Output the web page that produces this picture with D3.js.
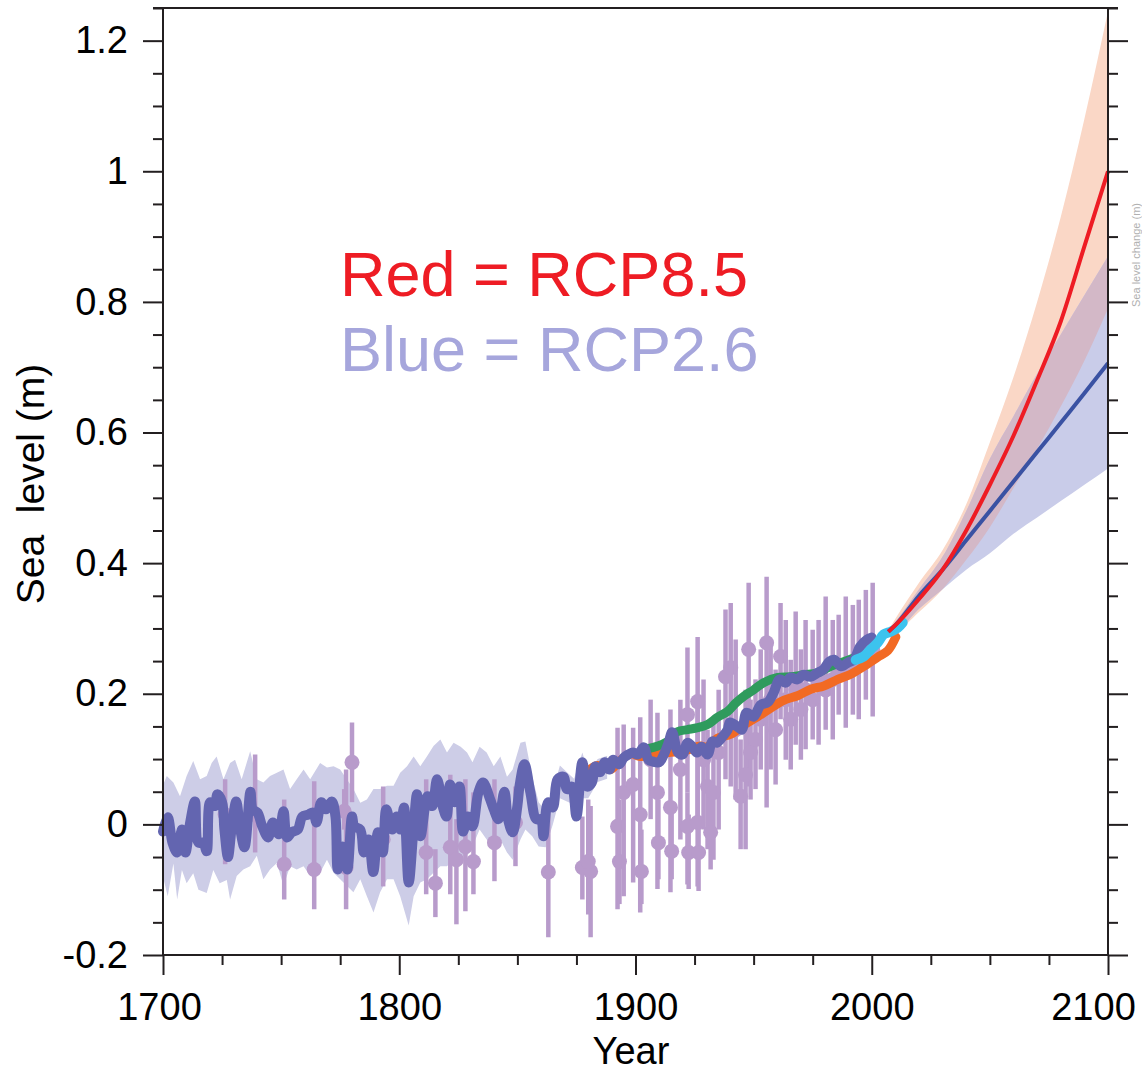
<!DOCTYPE html>
<html>
<head>
<meta charset="utf-8">
<script src="https://cdn.jsdelivr.net/npm/d3@7"></script>
<style>
  body { margin: 0; background: #fff; }
  svg { display: block; font-family: Arial, "Liberation Sans", sans-serif; }
</style>
</head>
<body>
<div id="container"></div>
<script>
// reconstruction (dark blue line), [year, sea level m]
const reconSeries = [
  [1700,-0.011],[1702,0.011],[1704,-0.028],[1706,-0.043],[1708,-0.008],[1709.5,-0.043],[1711.5,0.003],[1713.5,0.035],
  [1715,-0.028],[1717,-0.028],[1718.5,-0.041],[1720,0.034],[1722,0.028],[1723,0.046],[1725,0.034],[1726,-0.008],
  [1727.5,-0.050],[1729,-0.008],[1731,0.035],[1732.5,-0.003],[1734.5,-0.035],[1737,0.050],[1738,0.023],[1740,0.018],
  [1742,-0.003],[1744.5,-0.020],[1746.5,0.003],[1749,-0.015],[1751,0.020],[1752.5,-0.020],[1754.5,-0.012],[1757,-0.008],
  [1759,0.012],[1761.5,0.015],[1763.5,0.018],[1765,0.003],[1767,0.034],[1769,0.023],[1771.5,0.035],[1773,0.012],
  [1774,-0.069],[1776,-0.034],[1778,-0.069],[1780,0.012],[1781,-0.003],[1783.5,-0.008],[1785,-0.043],[1787,-0.023],
  [1789,-0.073],[1791,-0.012],[1793,-0.043],[1794.5,0.023],[1797,-0.008],[1799,0.012],[1800.5,-0.008],[1802,0.026],
  [1804,-0.089],[1806,-0.008],[1807.5,0.046],[1809,-0.018],[1812,0.043],[1814,0.028],[1816,0.069],[1818.5,0.026],
  [1820,0.012],[1821.5,0.061],[1823.5,0.034],[1825.5,0.058],[1827,-0.011],[1829,0.012],[1831,-0.003],[1833.5,0.049],
  [1835.5,0.064],[1838.5,0.038],[1840,0.023],[1842,0.008],[1844.5,0.050],[1846,0.008],[1848,-0.012],[1850,0.028],
  [1851,0.061],[1853,0.092],[1855.5,0.049],[1858,0.008],[1860,0.008],[1861,-0.018],[1863,0.034],[1865,0.026],
  [1867,0.069],[1869.5,0.073],[1871,0.054],[1873,0.058],[1875,0.012],[1877.5,0.095],[1879.5,0.058],[1881.5,0.064],
  [1883,0.089],[1885,0.080],[1887,0.095],[1889,0.084],[1890.5,0.099],[1893,0.092],[1895,0.102],[1897,0.107],
  [1899,0.110],[1901,0.107],[1903.5,0.118],[1905.5,0.099],[1907.5,0.096],[1910,0.095],[1912,0.107],[1914,0.125],
  [1915.5,0.141],[1918,0.110],[1920,0.107],[1922,0.125],[1924,0.119],[1926,0.110],[1928,0.119],[1930.5,0.107],
  [1932.5,0.127],[1934.5,0.125],[1937,0.135],[1939,0.145],[1940,0.156],[1943,0.150],[1945,0.145],[1947,0.171],
  [1950,0.165],[1953,0.183],[1956,0.187],[1958.5,0.202],[1961,0.222],[1963.5,0.217],[1965.5,0.225],[1968.5,0.222],
  [1971,0.229],[1974,0.226],[1977,0.232],[1979.5,0.237],[1982,0.249],[1984,0.252],[1987,0.242],[1990,0.248],
  [1992.5,0.252],[1995,0.272],[1998,0.283],[2000,0.286]
];

// uncertainty envelope of the reconstruction
const reconUpper = [
  [1700,0.060],[1701.6,0.074],[1704.4,0.064],[1707.2,0.043],[1710,0.074],[1712.8,0.097],[1715.7,0.069],[1718.5,0.074],
  [1720.6,0.094],[1722.7,0.104],[1725.6,0.069],[1728.4,0.094],[1730.5,0.099],[1733.3,0.069],[1736.9,0.112],[1739.7,0.069],
  [1742.5,0.064],[1745.3,0.074],[1748.2,0.079],[1751,0.084],[1753.8,0.054],[1756.6,0.069],[1759.5,0.084],[1762.3,0.069],
  [1766.5,0.094],[1769.4,0.087],[1772.2,0.089],[1775,0.084],[1777.8,0.069],[1780.6,0.054],[1783.5,0.033],[1786.3,0.038],
  [1789.1,0.054],[1791.9,0.054],[1794.8,0.059],[1797.6,0.059],[1800.4,0.079],[1803.3,0.089],[1806.1,0.104],[1808.9,0.089],
  [1811.7,0.104],[1814.5,0.120],[1817.4,0.130],[1820.2,0.110],[1823,0.125],[1826,0.119],[1828.7,0.110],[1831,0.095],
  [1834,0.119],[1837,0.110],[1840,0.089],[1842.8,0.104],[1845.6,0.073],[1848,0.084],[1851.3,0.125],[1853.4,0.127],
  [1856.3,0.073],[1859,0.034],[1862,0.020],[1865,0.050],[1868,0.090],[1871,0.080],[1874,0.070],[1877.5,0.110],
  [1880,0.080],[1884,0.100],[1888,0.105]
];
const reconLower = [
  [1700,-0.080],[1702,-0.110],[1704.4,-0.060],[1706,-0.115],[1708,-0.070],[1710,-0.090],[1712.8,-0.075],[1715,-0.100],
  [1718.5,-0.105],[1721.3,-0.070],[1724,-0.090],[1727,-0.085],[1728.4,-0.115],[1731.2,-0.079],[1734,-0.069],[1736.9,-0.064],
  [1739.7,-0.048],[1742.5,-0.084],[1745.3,-0.069],[1748.2,-0.059],[1751,-0.094],[1753.8,-0.064],[1756.6,-0.069],[1759.5,-0.064],
  [1762.3,-0.079],[1766.5,-0.074],[1769.4,-0.054],[1772.2,-0.074],[1775,-0.084],[1777.8,-0.094],[1780.6,-0.104],[1783.5,-0.084],
  [1786.3,-0.110],[1789.1,-0.135],[1791.9,-0.104],[1794.8,-0.084],[1797.6,-0.084],[1800.4,-0.110],[1804,-0.155],[1806.1,-0.110],
  [1808.9,-0.089],[1811.7,-0.084],[1814.5,-0.074],[1817.4,-0.064],[1820.2,-0.064],[1823,-0.054],[1826,-0.050],[1828.7,-0.048],
  [1831,-0.034],[1834,-0.008],[1837,-0.023],[1840,-0.034],[1842.8,-0.023],[1845.6,-0.043],[1848,-0.054],[1851.3,-0.023],
  [1853.4,-0.008],[1856.3,-0.018],[1859,-0.034],[1862,-0.035],[1865,0.000],[1868,0.040],[1871,0.035],[1874,0.030],
  [1877.5,0.040],[1880,0.040],[1884,0.065],[1888,0.070]
];

// proxy / gauge points: [year, value, low, high]
const proxyPoints = [
  [1726.3,0.015,-0.061,0.069],[1739,0.015,-0.043,0.107],[1751.3,-0.061,-0.115,0.038],[1764,-0.069,-0.130,0.066],
  [1777.5,-0.066,-0.130,0.084],[1776.7,0.020,-0.008,0.054],[1780,0.095,0.034,0.156],[1793.2,-0.023,-0.095,0.058],
  [1811.4,-0.043,-0.107,0.069],[1815.3,-0.090,-0.142,-0.038],[1821.6,-0.035,-0.107,0.076],[1824.2,-0.054,-0.153,0.008],
  [1828,-0.034,-0.133,0.069],[1831.4,-0.057,-0.107,0.049],[1840.3,-0.028,-0.087,0.069],[1849.2,0.003,-0.064,0.058],
  [1863.1,-0.073,-0.173,0.026],[1877.5,-0.066,-0.115,0.012],[1881,-0.072,-0.173,0.028],[1880,-0.057,-0.138,0.038],
  [1892.4,-0.003,-0.130,0.148],[1893.2,-0.057,-0.122,0.038],[1895,0.049,-0.110,0.153],[1899,0.061,-0.089,0.148],
  [1902,0.015,-0.135,0.164],[1902.5,-0.072,-0.122,-0.008],[1906.4,0.099,0.008,0.191],[1909.3,0.049,-0.099,0.171],
  [1909.7,-0.028,-0.084,0.038],[1914.8,0.026,-0.104,0.176],[1915.3,-0.041,-0.084,0.023],[1919,0.084,-0.023,0.191],
  [1922,-0.003,-0.092,0.049],[1922.5,-0.043,-0.099,0.015],[1922,0.168,0.049,0.271],[1926.3,0.003,-0.095,0.196],
  [1926.7,-0.043,-0.102,0.008],[1926.3,0.188,0.008,0.287],[1928.8,0.099,-0.008,0.222],[1930.5,0.058,-0.038,0.145],
  [1931.8,-0.012,-0.069,0.054],[1933,0.049,-0.054,0.161],[1935.2,0.110,-0.008,0.206],[1938.1,0.226,0.069,0.329],
  [1940.3,0.240,0.058,0.339],[1942.4,0.145,0.038,0.283],[1944.5,0.043,-0.038,0.130],[1946.6,0.076,-0.038,0.206],
  [1947.9,0.268,0.058,0.370],[1948.7,0.110,0.038,0.191],[1950.8,0.130,0.054,0.222],[1953,0.161,0.084,0.268],
  [1955.5,0.278,0.026,0.379],[1957.2,0.191,0.084,0.283],[1959.3,0.145,0.061,0.237],[1961.4,0.257,0.161,0.339],
  [1963.6,0.191,0.099,0.313],[1965.7,0.161,0.084,0.252],[1967.8,0.206,0.122,0.326],[1970,0.176,0.099,0.268],
  [1972,0.206,0.115,0.313],[1975,0.191,0.130,0.298],[1977.5,0.222,0.122,0.313],[1980.5,0.206,0.145,0.349],
  [1983.5,0.222,0.130,0.313],[1986,0.229,0.168,0.321],[1989,0.237,0.148,0.349],[1992,0.245,0.168,0.336],
  [1994.5,0.252,0.161,0.344],[1997.5,0.260,0.191,0.359],[2000.4,0.268,0.165,0.370]
];

// tide-gauge and altimetry records
const orangeSeries = [
  [1881,0.085],[1884,0.090],[1889.4,0.084],[1893,0.096],[1897.9,0.108],[1902,0.104],[1907.6,0.106],[1914,0.110],
  [1919,0.112],[1923,0.115],[1927.5,0.120],[1930,0.118],[1934.7,0.132],[1940.3,0.138],[1945.8,0.152],[1951.7,0.165],
  [1957.2,0.178],[1962.7,0.190],[1968.6,0.197],[1974.2,0.207],[1979.7,0.212],[1985.6,0.222],[1991.1,0.230],
  [1996.6,0.242],[2002.5,0.256],[2006.8,0.266],[2010.2,0.287]
];
const greenSeries = [
  [1903,0.115],[1907.6,0.118],[1913.6,0.127],[1917.8,0.142],[1922,0.145],[1926.3,0.148],[1930.5,0.153],[1934.7,0.164],
  [1939,0.173],[1942.5,0.186],[1945.8,0.196],[1950,0.206],[1954.2,0.217],[1960.2,0.225],[1965.7,0.226],[1971.2,0.229],
  [1977.1,0.232],[1982.6,0.242],[1988.1,0.249],[1992.4,0.255]
];
const cyanSeries = [
  [1993.2,0.252],[1996.6,0.257],[1999.6,0.268],[2002.5,0.278],[2005.1,0.291],[2008,0.295],[2011,0.301],[2013.1,0.309]
];

// projections
const projYears = [2007, 2010, 2020, 2030, 2040, 2050, 2060, 2070, 2080, 2090, 2100];
const rcp85Mid  = [0.295, 0.305, 0.345, 0.390, 0.450, 0.520, 0.595, 0.680, 0.770, 0.885, 1.000];
const rcp85High = [0.297, 0.315, 0.370, 0.420, 0.490, 0.585, 0.685, 0.800, 0.930, 1.080, 1.245];
const rcp85Low  = [0.293, 0.295, 0.325, 0.360, 0.405, 0.455, 0.515, 0.575, 0.640, 0.710, 0.790];
const rcp26Mid  = [0.295, 0.305, 0.350, 0.390, 0.435, 0.480, 0.525, 0.570, 0.615, 0.660, 0.706];
const rcp26High = [0.297, 0.310, 0.360, 0.410, 0.480, 0.560, 0.625, 0.690, 0.750, 0.810, 0.870];
const rcp26Low  = [0.293, 0.295, 0.330, 0.360, 0.390, 0.415, 0.445, 0.470, 0.495, 0.520, 0.545];

const yearMajor = [1700, 1800, 1900, 2000, 2100];
const levelMajor = [-0.2, 0, 0.2, 0.4, 0.6, 0.8, 1, 1.2];

// set the dimensions and margins of the graph
const margin = {top: 8, right: 34, bottom: 118, left: 163},
  width = 1142 - margin.left - margin.right,
  height = 1073 - margin.top - margin.bottom;

const svgRoot = d3.select("#container")
.append("svg")
  .attr("width", width + margin.left + margin.right)
  .attr("height", height + margin.top + margin.bottom);
const svg = svgRoot.append("g")
  .attr("transform", `translate(${margin.left},${margin.top})`);

const x = d3.scaleLinear().domain([1700, 2100]).range([0, width]);
const y = d3.scaleLinear().domain([-0.2, 1.25]).range([height, 0]);

const line = d3.line().x(d => x(d[0])).y(d => y(d[1]));
const curvy = d3.line().x(d => x(d[0])).y(d => y(d[1])).curve(d3.curveCatmullRom.alpha(0.5));
const smooth = d3.line().x(d => x(d[0])).y(d => y(d[1])).curve(d3.curveMonotoneX);

// lavender envelope: upper forward, lower back
svg.append("path")
  .attr("d", line(reconUpper.concat(reconLower.slice().reverse())) + "Z")
  .style("fill", "#cdcde7")
  .style("stroke", "none");

// error bars and dots
const pts = svg.append("g");
pts.selectAll("line")
  .data(proxyPoints)
  .join("line")
    .attr("x1", d => x(d[0])).attr("x2", d => x(d[0]))
    .attr("y1", d => y(d[3])).attr("y2", d => y(d[2]))
    .style("stroke", "#b89bcb")
    .style("stroke-width", 4.5);
pts.selectAll("circle")
  .data(proxyPoints)
  .join("circle")
    .attr("cx", d => x(d[0]))
    .attr("cy", d => y(d[1]))
    .attr("r", 7.5)
    .style("fill", "#b89bcb");

// projection bands
const band = (lo, hi) => d3.area()
  .x((d, i) => x(projYears[i]))
  .y0((d, i) => y(lo[i]))
  .y1((d, i) => y(hi[i]))
  .curve(d3.curveMonotoneX)(projYears);

svg.append("path").attr("d", band(rcp85Low, rcp85High)).style("fill", "#fad7c6");
svg.append("path").attr("d", band(rcp26Low, rcp26High)).style("fill", "#c9cce9");
svg.append("clipPath").attr("id", "blueBand")
  .append("path").attr("d", band(rcp26Low, rcp26High));
svg.append("path")
  .attr("d", band(rcp85Low, rcp85High))
  .attr("clip-path", "url(#blueBand)")
  .style("fill", "#d3b8c7");

// observed lines
const drawLine = (data, color, w) => svg.append("path")
  .attr("d", curvy(data))
  .style("fill", "none")
  .style("stroke", color)
  .style("stroke-width", w)
  .style("stroke-linejoin", "round")
  .style("stroke-linecap", "round");

drawLine(orangeSeries, "#f26a24", 9);
drawLine(greenSeries, "#2f9b5d", 9);
drawLine(reconSeries, "#6365b0", 10);
drawLine(cyanSeries, "#3cc3ee", 10);

// projection central lines
const proj = (vals) => smooth(projYears.map((yr, i) => [yr, vals[i]]));
svg.append("path").attr("d", proj(rcp26Mid))
  .style("fill", "none").style("stroke", "#3a52a3").style("stroke-width", 4);
svg.append("path").attr("d", proj(rcp85Mid))
  .style("fill", "none").style("stroke", "#ee1c24").style("stroke-width", 4);

// axes
const axisColor = "#231f20";
const styleAxis = g => {
  g.select(".domain").remove();
  g.selectAll("line").style("stroke", axisColor).style("stroke-width", 2);
  g.selectAll("text").style("font-size", "38px").style("fill", "#000")
    .style("font-family", "Arial, 'Liberation Sans', sans-serif");
};
const minorLevels = d3.range(-0.2, 1.2501, 0.05).filter(v => Math.abs(Math.round(v * 5) - v * 5) > 1e-6);
const minorYears = d3.range(1700, 2101, 25).filter(v => v % 100 !== 0);
const levelFormat = d => d === 0 ? "0" : d === 1 ? "1" : d3.format(".1f")(d).replace("\u2212", "-");

svg.append("g")
  .call(d3.axisLeft(y).tickValues(levelMajor).tickSize(20).tickPadding(15).tickFormat(levelFormat))
  .call(styleAxis);
svg.append("g")
  .call(d3.axisLeft(y).tickValues(minorLevels).tickSize(10).tickFormat(""))
  .call(styleAxis);
svg.append("g").attr("transform", `translate(${width},0)`)
  .call(d3.axisRight(y).tickValues(levelMajor).tickSize(20).tickFormat(""))
  .call(styleAxis);
svg.append("g").attr("transform", `translate(${width},0)`)
  .call(d3.axisRight(y).tickValues(minorLevels).tickSize(10).tickFormat(""))
  .call(styleAxis);
const xAxis = svg.append("g").attr("transform", `translate(0,${height})`)
  .call(d3.axisBottom(x).tickValues(yearMajor).tickSize(20).tickPadding(18).tickFormat(d3.format("d")))
  .call(styleAxis);
xAxis.selectAll("text").filter(d => d === 1700).attr("dx", -4);
xAxis.selectAll("text").filter(d => d === 2100).attr("dx", -15);
svg.append("g").attr("transform", `translate(0,${height})`)
  .call(d3.axisBottom(x).tickValues(minorYears).tickSize(10).tickFormat(""))
  .call(styleAxis);

// frame
svg.append("line").attr("x1", 0).attr("x2", 0).attr("y1", 0).attr("y2", height)
  .style("stroke", axisColor).style("stroke-width", 2);
svg.append("line").attr("x1", width).attr("x2", width).attr("y1", 0).attr("y2", height)
  .style("stroke", axisColor).style("stroke-width", 2);
svg.append("line").attr("x1", -10).attr("x2", width + 10).attr("y1", 0).attr("y2", 0)
  .style("stroke", axisColor).style("stroke-width", 2);
svg.append("line").attr("x1", 0).attr("x2", width).attr("y1", height).attr("y2", height)
  .style("stroke", axisColor).style("stroke-width", 2);

// axis titles
svgRoot.append("text")
  .attr("transform", `translate(44,484) rotate(-90)`)
  .style("text-anchor", "middle")
  .style("font-size", "39px")
  .style("white-space", "pre")
  .text("Sea  level (m)");
svgRoot.append("text")
  .attr("x", 631).attr("y", 1064)
  .style("text-anchor", "middle")
  .style("font-size", "38px")
  .text("Year");

// legend text
svgRoot.append("text")
  .attr("x", 340).attr("y", 296)
  .style("font-size", "63px").style("fill", "#ee1c24")
  .text("Red = RCP8.5");
svgRoot.append("text")
  .attr("x", 340).attr("y", 371)
  .style("font-size", "63px").style("fill", "#a6a6dc")
  .text("Blue = RCP2.6");

// faint label of a neighbouring panel at the right edge
svgRoot.append("text")
  .attr("transform", "translate(1140,255) rotate(-90)")
  .style("text-anchor", "middle")
  .style("font-size", "11px")
  .style("fill", "#b0b0b0")
  .text("Sea level change (m)");
</script>
</body>
</html>
